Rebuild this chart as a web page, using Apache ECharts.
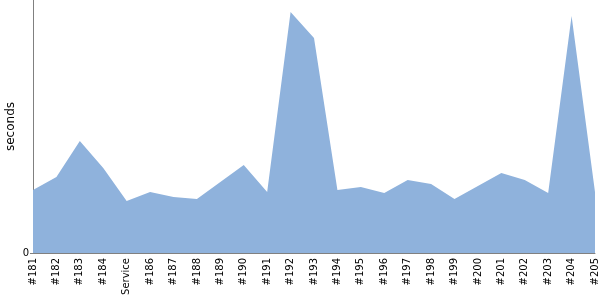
<!DOCTYPE html>
<html>
<head>
<meta charset="utf-8">
<script src="https://cdn.jsdelivr.net/npm/echarts@6/dist/echarts.min.js"></script>
<style>html,body{margin:0;padding:0;background:#fff}#c{width:600px;height:300px}</style>
</head>
<body>
<div id="c"></div>
<script>
var categories = ['#181','#182','#183','#184','Service','#186','#187','#188','#189','#190','#191','#192','#193','#194','#195','#196','#197','#198','#199','#200','#201','#202','#203','#204','#205'];
var durations = [63, 76, 112, 85, 52, 61, 56, 54, 71, 88, 61, 241, 215, 63, 66, 60, 73, 69, 54, 67, 80, 73, 60, 237, 61];
var yMax = 253;
var yTicks = [0];

var chart = echarts.init(document.getElementById('c'), null, {renderer: 'canvas'});
chart.setOption({
  animation: false,
  grid: {left: 33, right: 5, top: 0, bottom: 47, containLabel: false, outerBoundsMode: 'none'},
  xAxis: {
    type: 'category',
    data: categories,
    boundaryGap: false,
    axisLine: {lineStyle: {color: '#808080', width: 1}},
    axisTick: {show: false},
    axisLabel: {rotate: 90, interval: 0, margin: 5, color: '#000', fontFamily: 'DejaVu Sans', fontSize: 10}
  },
  yAxis: {
    type: 'value',
    min: 0, max: yMax,
    name: 'seconds',
    nameLocation: 'middle',
    nameGap: 16,
    nameRotate: 90,
    nameMoveOverlap: false,
    nameTextStyle: {fontFamily: 'DejaVu Sans', fontSize: 12, color: '#000'},
    splitLine: {show: false},
    axisLine: {show: true, lineStyle: {color: '#808080'}},
    axisTick: {show: true, length: 3, customValues: yTicks, lineStyle: {color: '#808080'}},
    axisLabel: {customValues: yTicks, margin: 4, color: '#000', fontFamily: 'DejaVu Sans', fontSize: 10}
  },
  series: [{
    type: 'line',
    data: durations,
    symbol: 'none',
    lineStyle: {width: 0},
    areaStyle: {color: '#8fb2dc', opacity: 1}
  }]
});
</script>
</body>
</html>
